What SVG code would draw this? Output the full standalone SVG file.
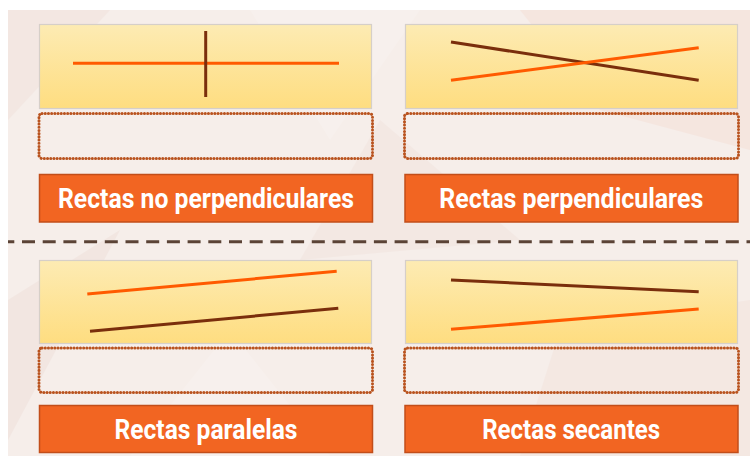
<svg xmlns="http://www.w3.org/2000/svg" width="750" height="456" viewBox="0 0 750 456">
<defs>
<linearGradient id="yg" x1="0" y1="0" x2="0" y2="1">
<stop offset="0" stop-color="#fdebb3"/>
<stop offset="1" stop-color="#fedd80"/>
</linearGradient>
</defs>
<style>
.pic{fill:url(#yg);stroke:#d6cfc8;stroke-width:1.2}
.dot{fill:none;stroke:#b9531f;stroke-width:3;stroke-dasharray:0.1 3.1;stroke-linecap:round}
.lab{fill:#f26522;stroke:#c24e1a;stroke-width:1.5}
.txt{font-family:"Roboto","Liberation Sans",sans-serif;font-weight:bold;font-size:27px;fill:#ffffff;text-anchor:middle}
.o{stroke:#ff5a00;stroke-width:3;stroke-linecap:butt}
.b{stroke:#7a2e0c;stroke-width:3;stroke-linecap:butt}
</style>
<rect x="0" y="0" width="750" height="456" fill="#ffffff"/>
<rect x="8" y="10" width="742" height="446" fill="#f6eeea"/>
<g opacity="0.5">
<polygon points="8,10 110,10 8,120" fill="#f1e2dc"/>
<polygon points="250,10 420,10 330,140" fill="#f9f3f0"/>
<polygon points="520,10 750,10 750,150 600,110" fill="#f5dfd6"/>
<polygon points="8,300 120,230 8,440" fill="#efe0da"/>
<polygon points="230,330 330,456 130,456" fill="#f9f3f0"/>
<polygon points="560,330 750,300 750,456 520,456" fill="#f3e3dc"/>
<polygon points="380,120 520,240 300,260" fill="#f2e4de"/>
</g>
<g id="connectors">
<line x1="8" y1="241.7" x2="750" y2="241.7" stroke="#5b4336" stroke-width="3" stroke-dasharray="13 7.7" stroke-dashoffset="6.7"/>
</g>
<g id="no-perpendiculares">
<rect class="pic" x="39.5" y="24.5" width="332" height="84"/>
<line class="o" x1="73" y1="63.3" x2="339" y2="63.3"/>
<line class="b" x1="205.7" y1="31" x2="205.7" y2="97"/>
<rect class="dot" x="39" y="113.5" width="333.5" height="45" rx="3"/>
<rect class="lab" x="39.5" y="174.5" width="333" height="47.5"/>
<text class="txt" x="206" y="208" textLength="296" lengthAdjust="spacingAndGlyphs">Rectas no perpendiculares</text>
</g>
<g id="perpendiculares">
<rect class="pic" x="405.5" y="24.5" width="332" height="84"/>
<line class="b" x1="451" y1="42" x2="698.7" y2="80.3"/>
<line class="o" x1="451" y1="80.3" x2="698.7" y2="47.7"/>
<rect class="dot" x="404.5" y="113.5" width="334" height="45" rx="3"/>
<rect class="lab" x="405" y="174.5" width="333" height="47.5"/>
<text class="txt" x="571.3" y="208" textLength="264" lengthAdjust="spacingAndGlyphs">Rectas perpendiculares</text>
</g>
<g id="paralelas">
<rect class="pic" x="39.5" y="260.5" width="332" height="83"/>
<line class="o" x1="87.3" y1="294" x2="336.7" y2="271.3"/>
<line class="b" x1="90" y1="331.3" x2="338.3" y2="308.3"/>
<rect class="dot" x="39" y="348" width="333.5" height="44.5" rx="3"/>
<rect class="lab" x="39.5" y="405.5" width="333" height="47"/>
<text class="txt" x="206" y="439.3" textLength="183" lengthAdjust="spacingAndGlyphs">Rectas paralelas</text>
</g>
<g id="secantes">
<rect class="pic" x="405.5" y="260.5" width="332" height="83"/>
<line class="b" x1="451" y1="280" x2="698.7" y2="291.7"/>
<line class="o" x1="451" y1="329.3" x2="698.7" y2="309"/>
<rect class="dot" x="404.5" y="348" width="334" height="44.5" rx="3"/>
<rect class="lab" x="405" y="405.5" width="333" height="47"/>
<text class="txt" x="571.2" y="439.3" textLength="178" lengthAdjust="spacingAndGlyphs">Rectas secantes</text>
</g>
</svg>
